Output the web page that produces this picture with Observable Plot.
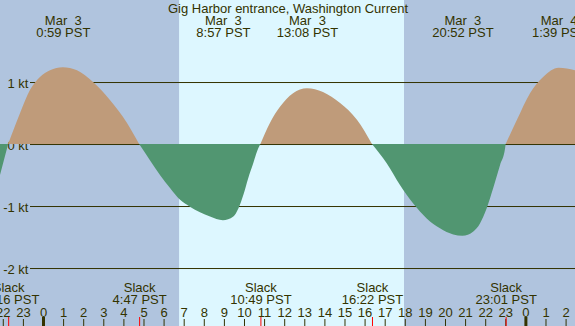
<!DOCTYPE html>
<html>
<head>
<meta charset="utf-8">
<script src="https://cdn.jsdelivr.net/npm/d3@7"></script>
<script src="https://cdn.jsdelivr.net/npm/@observablehq/plot@0.6"></script>
<style>
  html, body { margin: 0; padding: 0; background: #b0c4de; }
</style>
</head>
<body>
<div id="chart"></div>
<script>
// Current (knots), hours relative to Mar 3 00:00 PST
const hours = [-2.14, -1.733, -1.14, -0.65, -0.15, 0.35, 0.983, 1.69, 2.49, 3.33, 4.18, 4.783,
  5.32, 5.82, 6.32, 6.82, 7.31, 7.81, 8.31, 8.95, 9.47, 9.72, 9.97, 10.21, 10.46, 10.71, 10.817,
  11.29, 11.79, 12.44, 13.133, 13.93, 14.78, 15.62, 16.367,
  17.10, 17.76, 18.42, 19.09, 19.75, 20.41, 20.867, 21.41, 21.74, 22.07, 22.40, 22.74, 22.99, 23.017,
  23.58, 24.23, 24.88, 25.65, 26.47];
const knots = [-0.50, 0, 0.50, 0.87, 1.08, 1.19, 1.24, 1.19, 1.00, 0.71, 0.34, 0,
  -0.26, -0.50, -0.71, -0.90, -1.01, -1.10, -1.17, -1.23, -1.17, -1.04, -0.82, -0.55, -0.31, -0.07, 0,
  0.34, 0.60, 0.82, 0.90, 0.84, 0.66, 0.39, 0,
  -0.31, -0.66, -0.96, -1.20, -1.36, -1.46, -1.48, -1.41, -1.28, -1.04, -0.71, -0.34, -0.07, 0,
  0.39, 0.82, 1.08, 1.23, 1.19];

// Max current events
const maxTimes = [0.983, 8.95, 13.133, 20.867, 25.65];
const maxDates = ["Mar\u00a0\u00a03", "Mar\u00a0\u00a03", "Mar\u00a0\u00a03", "Mar\u00a0\u00a03", "Mar\u00a0\u00a04"];
const maxLabels = ["0:59 PST", "8:57 PST", "13:08 PST", "20:52 PST", "1:39 PST"];

// Slack events
const slackTimes = [-1.733, 4.783, 10.817, 16.367, 23.017];
const slackLabels = ["22:16 PST", "4:47 PST", "10:49 PST", "16:22 PST", "23:01 PST"];

// Daylight
const sunrise = [6.77];
const sunset = [17.96];

// Hour ticks
const tickHours = [-2, -1, 0, 1, 2, 3, 4, 5, 6, 7, 8, 9, 10, 11, 12, 13, 14, 15, 16, 17, 18, 19, 20, 21, 22, 23, 24, 25, 26];
const tickLabels = ["22", "23", "0", "1", "2", "3", "4", "5", "6", "7", "8", "9", "10", "11", "12", "13", "14", "15", "16", "17", "18", "19", "20", "21", "22", "23", "0", "1", "2"];
const midnights = [0, 24];

// Y grid
const ktValues = [1, 0, -1, -2];
const ktLabels = ["1 kt", "0 kt", "-1 kt", "-2 kt"];

const title = ["Gig Harbor entrance, Washington Current"];

const data = hours.map((h, i) => ({h, v: knots[i]}));
const ink = "#333300";

const chart = Plot.plot({
  width: 575,
  height: 326,
  margin: 0,
  x: {domain: [-2.139, 26.468], axis: null},
  y: {domain: [-2.935, 2.323], axis: null},
  style: {fontFamily: "'Liberation Sans', Arial, sans-serif", fontSize: "13px", background: "#b0c4de", color: ink},
  marks: [
    Plot.rect([0], {x1: () => sunrise[0], x2: () => sunset[0], fill: "#ddf7ff"}),
    Plot.ruleY(ktValues, {y: d => d, stroke: ink, strokeWidth: 1, insetLeft: 30, strokeOpacity: 1}),
    Plot.text(ktValues, {y: d => d, text: (d, i) => ktLabels[i], frameAnchor: "left", dx: 28, dy: 1, textAnchor: "end", fill: ink}),
    Plot.areaY(data, {x: "h", y1: () => 0, y2: d => d.v >= 0 ? d.v : NaN, curve: "monotone-x", fill: "#bf9b7a"}),
    Plot.areaY(data, {x: "h", y1: () => 0, y2: d => d.v <= 0 ? d.v : NaN, curve: "monotone-x", fill: "#519671"}),
    // top labels
    Plot.text(title, {frameAnchor: "top", lineAnchor: "top", dy: 3, fill: ink}),
    Plot.text(maxTimes, {x: d => d, text: (d, i) => maxDates[i], frameAnchor: "top", lineAnchor: "top", dy: 15, fill: ink}),
    Plot.text(maxTimes, {x: d => d, text: (d, i) => maxLabels[i], frameAnchor: "top", lineAnchor: "top", dy: 27, fill: ink}),
    // slack labels
    Plot.text(slackTimes, {x: d => d, text: () => "Slack", frameAnchor: "bottom", lineAnchor: "top", dy: -44, fill: ink}),
    Plot.text(slackTimes, {x: d => d, text: (d, i) => slackLabels[i], frameAnchor: "bottom", lineAnchor: "top", dy: -32, fill: ink}),
    // hour labels and ticks
    Plot.text(tickHours, {x: d => d, text: (d, i) => tickLabels[i], frameAnchor: "bottom", lineAnchor: "top", dy: -19, fill: ink}),
    Plot.tickX(tickHours, {x: d => d, stroke: ink, strokeWidth: 1, insetTop: 319}),
    Plot.tickX(midnights, {x: d => d, stroke: ink, strokeWidth: 3, insetTop: 317}),
    Plot.tickX(slackTimes, {x: d => d, stroke: "red", strokeWidth: 1, insetTop: 317})
  ]
});
document.getElementById("chart").appendChild(chart);
</script>
</body>
</html>
